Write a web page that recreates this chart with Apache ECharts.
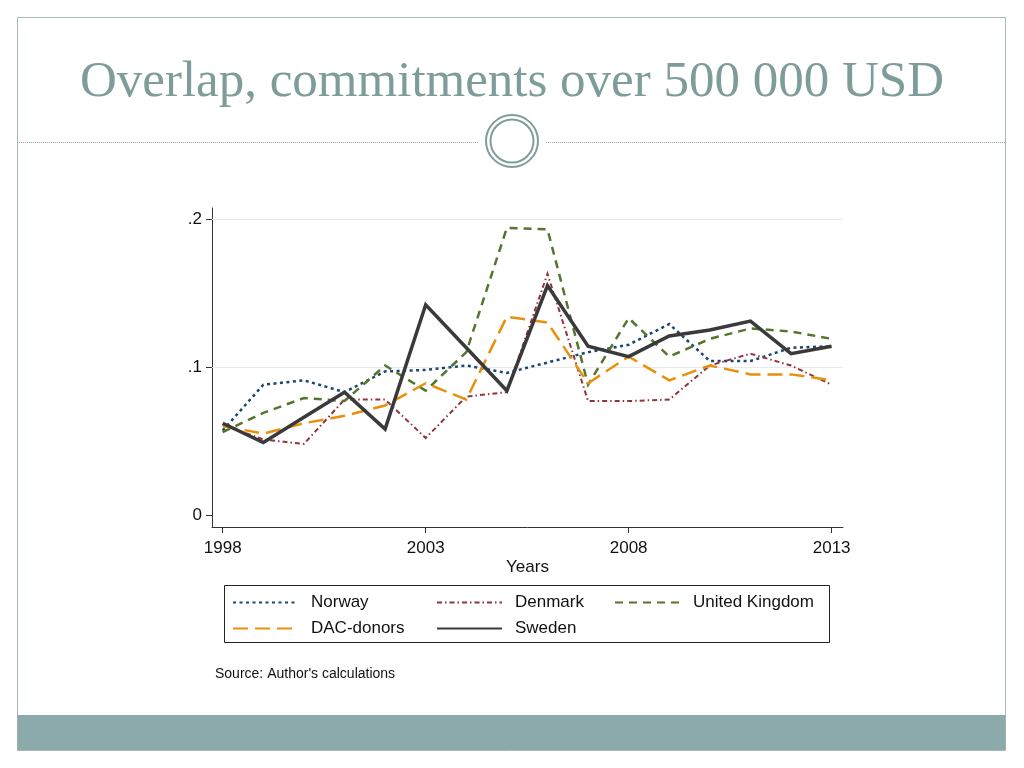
<!DOCTYPE html>
<html>
<head>
<meta charset="utf-8">
<script src="https://cdn.jsdelivr.net/npm/echarts@6/dist/echarts.min.js"></script>
<style>
html,body{margin:0;padding:0;background:#ffffff;}
#chart{width:1024px;height:768px;}
</style>
</head>
<body>
<div id="chart"></div>
<script>
// ---- data ----
const years = [1998,1999,2000,2001,2002,2003,2004,2005,2006,2007,2008,2009,2010,2011,2012,2013];
const xTickYears = [1998, 2003, 2008, 2013];
const yTickValues = [0, 0.1, 0.2];
const norway  = [0.057,0.088,0.091,0.083,0.097,0.098,0.101,0.096,0.103,0.110,0.115,0.129,0.104,0.104,0.113,0.114];
const denmark = [0.061,0.051,0.048,0.078,0.078,0.052,0.080,0.083,0.163,0.077,0.077,0.078,0.101,0.109,0.101,0.088];
const uk      = [0.056,0.069,0.079,0.077,0.101,0.084,0.110,0.194,0.193,0.088,0.133,0.107,0.119,0.126,0.124,0.119];
const dac     = [0.060,0.055,0.062,0.067,0.074,0.089,0.078,0.134,0.130,0.089,0.107,0.091,0.101,0.095,0.095,0.091];
const sweden  = [0.062,0.049,0.066,0.083,0.058,0.142,0.113,0.084,0.155,0.114,0.107,0.121,0.125,0.131,0.109,0.114];
const gridValues = [0.1, 0.2];

const pairs = arr => years.map((y, i) => [y, arr[i]]);
const FONT = 'Liberation Sans';

const chart = echarts.init(document.getElementById('chart'), null, {renderer: 'canvas'});

function mkSeries(name, arr, color, width, dash, extra) {
  return Object.assign({
    name: name,
    type: 'line',
    data: pairs(arr),
    symbol: 'none',
    silent: true,
    animation: false,
    lineStyle: {color: color, width: width, type: dash, cap: 'butt', join: 'miter'},
    itemStyle: {color: color}
  }, extra || {});
}

const legendBase = {
  orient: 'vertical',
  top: 594,
  padding: 0,
  itemWidth: 65,
  itemHeight: 14,
  itemGap: 9,
  selectedMode: false,
  itemStyle: {color: 'transparent', borderWidth: 0, opacity: 0},
  textStyle: {fontFamily: FONT, fontSize: 17, color: '#111', padding: [0, 0, 0, 8]}
};

const option = {
  backgroundColor: '#ffffff',
  animation: false,
  title: {
    text: 'Overlap, commitments over 500 000 USD',
    left: 'center',
    top: 52,
    textStyle: {fontFamily: 'Liberation Serif', fontWeight: 'normal', fontSize: 51, color: '#7d9c9a'}
  },
  grid: {left: 212, right: 181, top: 208, bottom: 241, containLabel: false},
  xAxis: {
    type: 'value',
    min: 1997.736,
    max: 2013.28,
    name: 'Years',
    nameLocation: 'middle',
    nameGap: 32,
    nameTextStyle: {fontFamily: FONT, fontSize: 17, color: '#111'},
    axisLine: {show: true, onZero: false, lineStyle: {color: '#333', width: 1}},
    axisTick: {show: true, length: 6, customValues: xTickYears, lineStyle: {color: '#333'}},
    axisLabel: {customValues: xTickYears, margin: 13, fontFamily: FONT, fontSize: 17, color: '#111',
                formatter: v => String(Math.round(v))},
    splitLine: {show: false}
  },
  yAxis: {
    type: 'value',
    min: -0.0081,
    max: 0.2074,
    axisLine: {show: true, onZero: false, lineStyle: {color: '#333', width: 1}},
    axisTick: {show: true, length: 6, customValues: yTickValues, lineStyle: {color: '#333'}},
    axisLabel: {customValues: yTickValues, margin: 10, fontFamily: FONT, fontSize: 17, color: '#111',
                formatter: v => (Math.abs(v) < 1e-9 ? '0' : '.' + Math.round(v * 10))},
    splitLine: {show: false}
  },
  legend: [
    Object.assign({}, legendBase, {left: 232, data: ['Norway', 'DAC-donors']}),
    Object.assign({}, legendBase, {left: 436, data: ['Denmark', 'Sweden']}),
    Object.assign({}, legendBase, {left: 614, data: ['United Kingdom']})
  ],
  series: [
    mkSeries('Norway', norway, '#1a476f', 2.5, [3, 3.5], {
      markLine: {
        silent: true, symbol: 'none', animation: false, z: 1,
        label: {show: false},
        lineStyle: {color: '#e6eaeb', width: 1.2, type: 'solid'},
        data: gridValues.map(v => ({yAxis: v}))
      }
    }),
    mkSeries('Denmark', denmark, '#90353b', 2, [5, 3, 1.5, 3]),
    mkSeries('United Kingdom', uk, '#55752f', 2.5, [8, 6]),
    mkSeries('DAC-donors', dac, '#e8900b', 2.5, [15, 7]),
    mkSeries('Sweden', sweden, '#3a3a3a', 3.5, 'solid')
  ],
  graphic: [
    {type: 'rect', silent: true, z: -10, shape: {x: 17.5, y: 17.5, width: 988, height: 733},
     style: {fill: '#ffffff', stroke: '#a7bab9', lineWidth: 1}},
    {type: 'rect', silent: true, z: -9, shape: {x: 17.5, y: 715, width: 988, height: 35},
     style: {fill: '#8caaa9', stroke: null}},
    {type: 'line', silent: true, shape: {x1: 17, y1: 142.5, x2: 478, y2: 142.5},
     style: {stroke: '#9aa5a5', lineWidth: 1, lineDash: [1, 1]}},
    {type: 'line', silent: true, shape: {x1: 546, y1: 142.5, x2: 1006, y2: 142.5},
     style: {stroke: '#9aa5a5', lineWidth: 1, lineDash: [1, 1]}},
    {type: 'circle', silent: true, shape: {cx: 512, cy: 141, r: 26},
     style: {fill: '#ffffff', stroke: '#7f9c9a', lineWidth: 2}},
    {type: 'circle', silent: true, shape: {cx: 512, cy: 141, r: 21.5},
     style: {fill: '#ffffff', stroke: '#7f9c9a', lineWidth: 2}},
    {type: 'rect', silent: true, z: -1, shape: {x: 224.5, y: 585.5, width: 605, height: 57},
     style: {fill: 'transparent', stroke: '#222', lineWidth: 1}},
    {type: 'text', silent: true, left: 215, top: 667,
     style: {text: "Source: Author's calculations", fontFamily: FONT, fontSize: 14, fill: '#111'}}
  ]
};

chart.setOption(option);
</script>
</body>
</html>
